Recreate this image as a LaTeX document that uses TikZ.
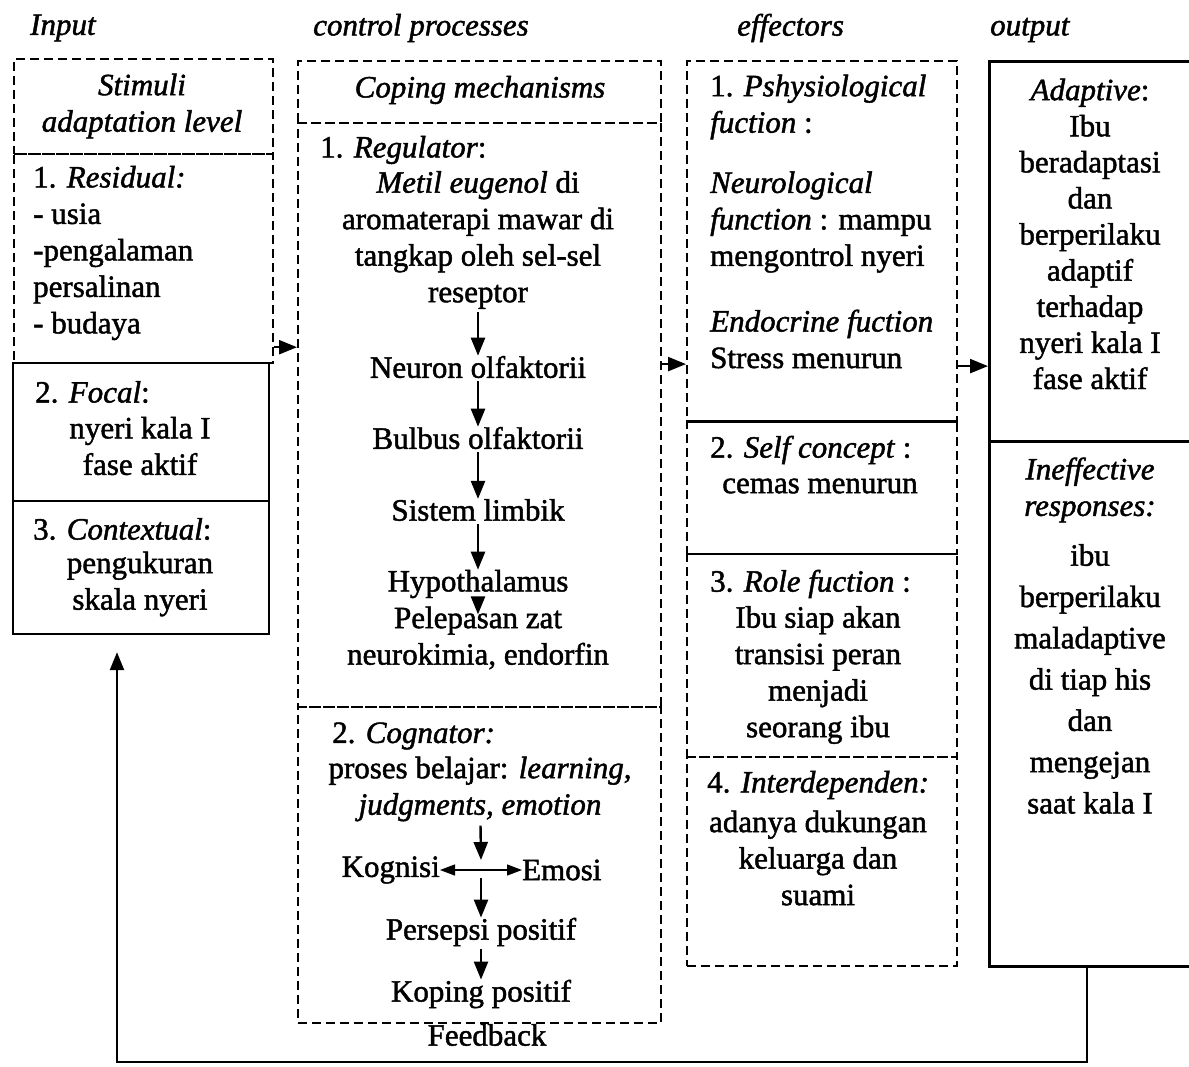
\documentclass[tikz,border=0pt]{standalone}
\usepackage{fontspec}
\setmainfont{Liberation Serif}[FakeBold=1.5]
\usetikzlibrary{arrows.meta,calc}
\begin{document}
\begin{tikzpicture}[x=1pt,y=-1pt,
  dbox/.style={draw, line width=2.2pt, dash pattern=on 9pt off 5pt, inner sep=0pt, anchor=north west},
  sbox/.style={draw, line width=2.2pt, inner sep=0pt, anchor=north west},
  obox/.style={draw, line width=3pt, inner sep=0pt, anchor=north west},
  txt/.style={inner sep=0pt, font=\fontsize{31}{36.5}\selectfont, align=center},
  ltxt/.style={txt, align=left, anchor=west},
  arr/.style={line width=2.4pt, -{Triangle[length=18pt,width=14pt]}},
  arr2/.style={line width=1.2pt, {Triangle[length=15pt,width=11pt]}-{Triangle[length=15pt,width=11pt]}}
]
\useasboundingbox (0,0) rectangle (1189,1066);

% headers
\node[txt,anchor=west] (hin) at (30,28) {\textit{Input}};
\node[txt,anchor=west] (hcp) at (313,28) {\textit{control processes}};
\node[txt,anchor=west] (hef) at (737,28) {\textit{effectors}};
\node[txt,anchor=west] (hout) at (990,30) {\textit{output}};

% ---------- Input column
\node[dbox, minimum width=259pt, minimum height=95pt] (stim) at (13,58) {};
\node[dbox, minimum width=259pt, minimum height=209pt] (resid) at (13,153) {};
\node[sbox, minimum width=256pt, minimum height=138pt] (focal) at (12,362) {};
\node[sbox, minimum width=256pt, minimum height=133pt] (ctx) at (12,500) {};

\node[txt] (stimT) at (142,106) {\textit{Stimuli}\\\textit{adaptation level}};
\node[ltxt] (residT) at (33,253) {1. \textit{Residual:}\\- usia\\-pengalaman\\persalinan\\- budaya};
\node[ltxt] (focalT) at (35,392) {2. \textit{Focal}:};
\node[txt] (focalB) at (140,446) {nyeri kala I\\fase aktif};
\node[ltxt] (ctxT) at (33,529) {3. \textit{Contextual}:};
\node[txt] (ctxB) at (140,584) {pengukuran\\skala nyeri};

% ---------- Control processes column
\node[dbox, minimum width=363pt, minimum height=62pt] (cope) at (297,60) {};
\node[dbox, minimum width=363pt, minimum height=584pt] (reg) at (297,122) {};
\node[dbox, minimum width=363pt, minimum height=316pt] (cog) at (297,706) {};

\node[txt] (copeT) at (480,90) {\textit{Coping mechanisms}};
\node[ltxt] (regT) at (320,150) {1. \textit{Regulator}:};
\node[txt] (metil) at (478,240) {\textit{Metil eugenol} di\\aromaterapi mawar di\\tangkap oleh sel-sel\\reseptor};
\node[txt] (neuron) at (478,367) {Neuron olfaktorii};
\node[txt] (bulbus) at (478,438) {Bulbus olfaktorii};
\node[txt] (limbik) at (478,510) {Sistem limbik};
\node[txt] (hypo) at (478,584) {Hypothalamus};
\node[txt] (pelepasan) at (478,638) {Pelepasan zat\\neurokimia, endorfin};

\draw[arr, shorten <=3pt] (metil) -- (neuron);
\draw[arr, shorten <=3pt] (neuron) -- (bulbus);
\draw[arr, shorten <=3pt] (bulbus) -- (limbik);
\draw[arr, shorten <=3pt] (limbik) -- (hypo);
\draw[arr, shorten <=-10pt, shorten >=-8pt] (hypo) -- (pelepasan);

\node[ltxt] (cogT) at (332,736) {2. \textit{Cognator:}};
\node[txt] (proses) at (480,789) {proses belajar: \textit{learning,}\\\textit{judgments, emotion}};
\coordinate (kx) at (481,870);
\node[txt,anchor=east] (kog) at (440,870) {Kognisi};
\node[txt,anchor=west] (emosi) at (522,870) {Emosi};
\node[txt] (persepsi) at (481,932) {Persepsi positif};
\node[txt] (koping) at (481,994) {Koping positif};
\node[txt] (feedback) at (487,1035) {Feedback};

\draw[arr2] (kog) -- (emosi);
\draw[arr, shorten <=4pt] (proses) -- ([yshift=10pt]kx);
\draw[arr] ([yshift=-8pt]kx) -- (persepsi);
\draw[arr, shorten <=3pt] (persepsi) -- (koping);

% ---------- Effectors column
\node[dbox, minimum width=270pt, minimum height=360pt] (phys) at (686,60) {};
\draw[line width=2pt] (phys.south west) -- (phys.south east);
\node[dbox, minimum width=270pt, minimum height=133pt] (self) at (686,420) {};
\node[dbox, minimum width=270pt, minimum height=203pt] (role) at (686,553) {};
\node[dbox, minimum width=270pt, minimum height=209pt] (inter) at (686,756) {};

\node[ltxt] (p1) at (710,107) {1. \textit{Pshysiological}\\\textit{fuction} :};
\node[ltxt] (p2) at (710,222) {\textit{Neurological}\\\textit{function} : mampu\\mengontrol nyeri};
\node[ltxt] (p3) at (710,339) {\textit{Endocrine fuction}\\Stress menurun};
\node[ltxt] (selfT) at (710,450) {2. \textit{Self concept} :};
\node[txt] (selfB) at (820,486) {cemas menurun};
\node[ltxt] (roleT) at (710,584) {3. \textit{Role fuction} :};
\node[txt] (roleB) at (818,675) {Ibu siap akan\\transisi peran\\menjadi\\seorang ibu};
\node[ltxt] (interT) at (707,785) {4. \textit{Interdependen:}};
\node[txt] (interB) at (818,858) {adanya dukungan\\keluarga dan\\suami};

% ---------- Output column
\node[obox, minimum width=210pt, minimum height=380pt] (adap) at (988,60) {};
\node[obox, minimum width=210pt, minimum height=525pt] (ineff) at (988,440) {};

\node[txt, font=\fontsize{31}{36.1}\selectfont] (adapT) at (1090,234) {\textit{Adaptive}:\\Ibu\\beradaptasi\\dan\\berperilaku\\adaptif\\terhadap\\nyeri kala I\\fase aktif};
\node[txt] (inT1) at (1090,490) {\textit{Ineffective}\\\textit{responses:}};
\node[txt, font=\fontsize{31}{41.3}\selectfont] (inT2) at (1090,679) {ibu\\berperilaku\\maladaptive\\di tiap his\\dan\\mengejan\\saat kala I};

% ---------- connectors between columns
\coordinate (inout) at ([yshift=17pt]resid.south east);
\draw[arr] (inout) -- (inout -| reg.west);
\coordinate (cpout) at ([yshift=51pt]reg.east);
\draw[arr] (cpout) -- (cpout -| phys.west);
\coordinate (efout) at ([yshift=-125pt]phys.east);
\draw[arr] (efout) -- (efout -| adap.west);

% feedback loop
\coordinate (fbR) at (1087,1062);
\coordinate (fbL) at (117,1062);
\coordinate (fbT) at ([yshift=-17pt]ctx.south -| fbL);
\draw[arr] (ineff.south -| fbR) -- (fbR) -- (fbL) -- (fbT);
\end{tikzpicture}
\end{document}
